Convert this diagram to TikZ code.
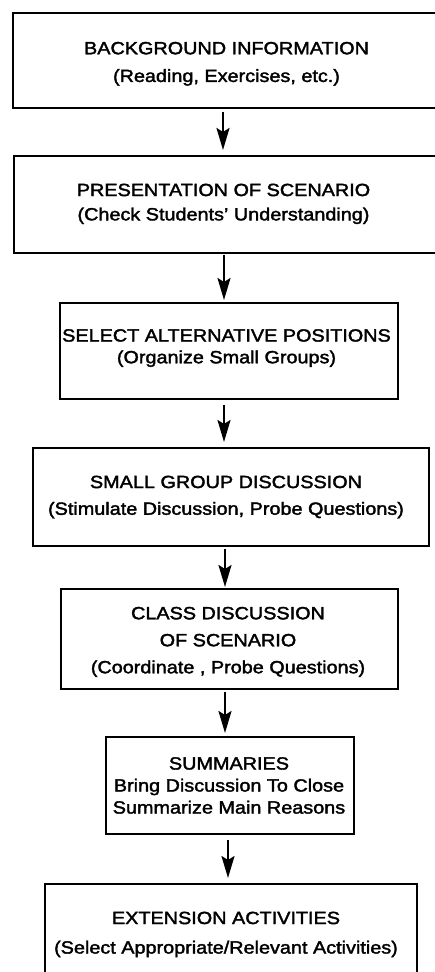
\documentclass[tikz,border=0pt]{standalone}
\usepackage{fontspec}
\setmainfont{Liberation Sans}[FakeStretch=1.12, FakeBold=2]
\usetikzlibrary{arrows.meta}

\tikzset{
  box/.style={draw, line width=1.7pt, rectangle, inner sep=0pt, anchor=north west},
  txt/.style={align=center, inner sep=0pt, anchor=north},
  flow/.style={line width=2.4pt, -{Stealth[length=22pt, width=13pt, inset=4pt]}},
}
\newcommand{\lsk}[1]{\fontsize{17.7}{#1}\selectfont}

\begin{document}
\begin{tikzpicture}[x=1pt, y=-1pt]
  \useasboundingbox (0,0) rectangle (435,972);

  % boxes (the first two and the last one run off the sheet)
  \node[box, minimum width=440pt, minimum height=95pt] (b1) at (12,12) {};
  \node[box, minimum width=440pt, minimum height=97pt] (b2) at (13,155) {};
  \node[box, minimum width=338pt, minimum height=96pt] (b3) at (59,302) {};
  \node[box, minimum width=396pt, minimum height=98pt] (b4) at (32,447) {};
  \node[box, minimum width=337pt, minimum height=100pt] (b5) at (60,588) {};
  \node[box, minimum width=248pt, minimum height=97pt] (b6) at (105,736) {};
  \node[box, minimum width=372pt, minimum height=120pt] (b7) at (44,883) {};

  % box texts
  \node[txt, font=\lsk{27.7}] (t1) at (226.5,41.7)
    {BACKGROUND INFORMATION\\(Reading, Exercises, etc.)};
  \node[txt, font=\lsk{24.3}] (t2) at (223.5,183.5)
    {PRESENTATION OF SCENARIO\\(Check Students' Understanding)};
  \node[txt, font=\lsk{21.7}] (t3) at (226.5,329)
    {SELECT ALTERNATIVE POSITIONS\\(Organize Small Groups)};
  \node[txt, font=\lsk{26.7}] (t4) at (226,475.5)
    {SMALL GROUP DISCUSSION\\(Stimulate Discussion, Probe Questions)};
  \node[txt, font=\lsk{27}] (t5) at (228,606.7)
    {CLASS DISCUSSION\\OF SCENARIO\\(Coordinate , Probe Questions)};
  \node[txt, font=\lsk{22}] (t6) at (229,757)
    {SUMMARIES\\Bring Discussion To Close\\Summarize Main Reasons};
  \node[txt, font=\lsk{29.5}] (t7) at (226,911.5)
    {EXTENSION ACTIVITIES\\(Select Appropriate/Relevant Activities)};

  % connectors between consecutive steps
  \draw[flow] ([yshift=-3pt]b1.south -| 223,0) -- ([yshift=5pt]b2.north -| 223,0);
  \draw[flow] ([yshift=-1pt]b2.south -| 224,0) -- ([yshift=2pt]b3.north -| 224,0);
  \draw[flow] ([yshift=-5pt]b3.south -| 224,0) -- ([yshift=5pt]b4.north -| 224,0);
  \draw[flow] ([yshift=-2pt]b4.south -| 225,0) -- ([yshift=1pt]b5.north -| 225,0);
  \draw[flow] ([yshift=-2pt]b5.south -| 225,0) -- ([yshift=3pt]b6.north -| 225,0);
  \draw[flow] ([yshift=-5pt]b6.south -| 228,0) -- ([yshift=5pt]b7.north -| 228,0);
\end{tikzpicture}
\end{document}
